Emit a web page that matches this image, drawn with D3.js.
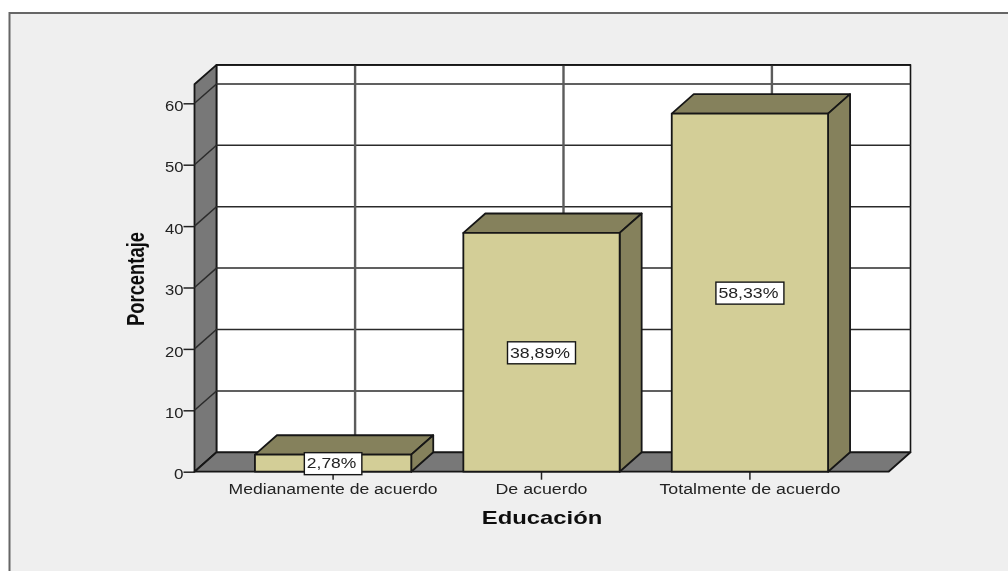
<!DOCTYPE html>
<html><head><meta charset="utf-8">
<script src="https://cdn.jsdelivr.net/npm/d3@7"></script>
<style>html,body{margin:0;padding:0;background:#fff;overflow:hidden}svg{display:block}</style>
</head><body><div id="c"></div>
<script>
const categories = ["Medianamente de acuerdo","De acuerdo","Totalmente de acuerdo"];
const values = [2.78,38.89,58.33];
const valueLabels = ["2,78%","38,89%","58,33%"];
const yTicks = [0,10,20,30,40,50,60];
const xTitle = "Educación", yTitle = "Porcentaje";

const W=1008,H=571, dx=22, dy=19.4;
const svg=d3.select("#c").append("svg").attr("width",W).attr("height",H);
const defs=svg.append("defs");
defs.append("filter").attr("id","soft").attr("filterUnits","userSpaceOnUse").attr("x",0).attr("y",0).attr("width",W).attr("height",H)
  .append("feGaussianBlur").attr("stdDeviation",0.45);
const root=svg.append("g").attr("filter","url(#soft)");
const sx=d3.scaleBand().domain(categories).range([194.5,888.5]).paddingInner(0.25).paddingOuter(0.29);
const sy=d3.scaleLinear().domain([0,60]).range([471.7,103.3]);
const x0=sx.range()[0],x1=sx.range()[1],y0=sy(0),yTop=sy(63.1);
const ink="#161616",wallC="#787878",face="#d3ce97",side="#85815c";
const fontName="'Liberation Sans',Arial,sans-serif";
const poly=(pts,fill,sw=1.8)=>root.append("polygon").attr("points",pts.map(p=>p.join(",")).join(" "))
  .attr("fill",fill).attr("stroke",ink).attr("stroke-width",sw).attr("stroke-linejoin","round");

// panel: framed on top and left only, runs off the right and bottom
root.append("rect").attr("x",9.5).attr("y",13).attr("width",W+20).attr("height",H+20).attr("fill","#efefef")
  .attr("stroke","#666").attr("stroke-width",2);

// back wall, side wall, floor
poly([[x0+dx,yTop-dy],[x1+dx,yTop-dy],[x1+dx,y0-dy],[x0+dx,y0-dy]],"#fff",1.6);
poly([[x0,yTop],[x0+dx,yTop-dy],[x0+dx,y0-dy],[x0,y0]],wallC);
poly([[x0,y0],[x0+dx,y0-dy],[x1+dx,y0-dy],[x1,y0]],wallC);

// gridlines
yTicks.slice(1).forEach(t=>{
  root.append("path").attr("d",`M${x0},${sy(t)}L${x0+dx},${sy(t)-dy}H${x1+dx}`)
    .attr("fill","none").attr("stroke","#2c2c2c").attr("stroke-width",1.5);
});
categories.forEach(c=>{
  const cx=sx(c)+sx.bandwidth()/2+dx;
  root.append("line").attr("x1",cx).attr("x2",cx).attr("y1",yTop-dy).attr("y2",y0-dy)
    .attr("stroke","#5c5c5c").attr("stroke-width",2.4);
});
root.append("line").attr("x1",x0+dx).attr("x2",x1+dx).attr("y1",yTop-dy).attr("y2",yTop-dy).attr("stroke",ink).attr("stroke-width",1.6);

// y axis
const yAxis=root.append("g").attr("transform",`translate(${x0},0)`)
  .call(d3.axisLeft(sy).tickValues(yTicks).tickSize(11).tickPadding(0).tickFormat(d3.format("d")));
yAxis.select(".domain").remove();
yAxis.selectAll("line").attr("stroke","#222").attr("stroke-width",1.5);
yAxis.selectAll("text").attr("font-family",fontName).attr("font-size",14).attr("fill","#222").attr("dy","0.52em")
  .attr("textLength",18.5).attr("lengthAdjust","spacingAndGlyphs");
yAxis.selectAll(".tick").filter(d=>d===0).select("text").attr("textLength",9.5);

// x axis
const xAxis=root.append("g").attr("transform",`translate(0,${y0})`)
  .call(d3.axisBottom(sx).tickSize(8).tickPadding(4));
xAxis.select(".domain").remove();
xAxis.selectAll("line").attr("stroke","#222").attr("stroke-width",1.5);
const xw=[209,92,181];
xAxis.selectAll("text").attr("font-family",fontName).attr("font-size",14).attr("fill","#222")
  .attr("textLength",(d,i)=>xw[i]).attr("lengthAdjust","spacingAndGlyphs");

// bars
categories.forEach((c,i)=>{
  const a=sx(c),b=a+sx.bandwidth(),t=sy(values[i]);
  poly([[a,t],[a+dx,t-dy],[b+dx,t-dy],[b,t]],side);
  poly([[b,t],[b+dx,t-dy],[b+dx,y0-dy],[b,y0]],side);
  poly([[a,t],[b,t],[b,y0],[a,y0]],face);
});

// value labels
categories.forEach((c,i)=>{
  const cx=sx(c)+sx.bandwidth()/2, ly=(sy(values[i])+y0)/2+0.5;
  const w=i===0?57.5:68;
  root.append("rect").attr("x",cx-w/2).attr("y",ly-11).attr("width",w).attr("height",22)
    .attr("fill","#fff").attr("stroke",ink).attr("stroke-width",1.4);
  root.append("text").attr("x",cx-1.5).attr("y",ly+4.8).attr("text-anchor","middle")
    .attr("font-family",fontName).attr("font-size",14.5).attr("fill","#222")
    .attr("textLength",w-8).attr("lengthAdjust","spacingAndGlyphs").text(valueLabels[i]);
});

// titles
root.append("text").attr("x",542).attr("y",524.3).attr("text-anchor","middle")
  .attr("font-family",fontName).attr("font-weight","bold").attr("font-size",19).attr("fill","#111")
  .attr("textLength",120.5).attr("lengthAdjust","spacingAndGlyphs").text(xTitle);
root.append("text").attr("transform","translate(144.3,279) rotate(-90)").attr("text-anchor","middle")
  .attr("font-family",fontName).attr("font-weight","bold").attr("font-size",24).attr("fill","#111")
  .attr("textLength",94).attr("lengthAdjust","spacingAndGlyphs").text(yTitle);
</script></body></html>
